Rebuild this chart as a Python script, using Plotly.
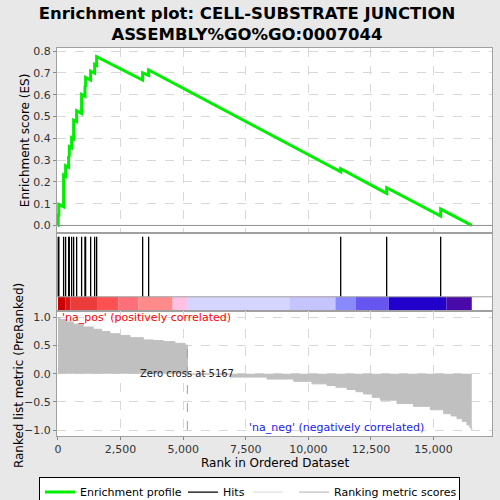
import plotly.graph_objects as go

# ranks of the genes in the set (hits) and ES just before / after each hit
hit_ranks = [10, 35, 225, 305, 425, 452, 545, 625, 745, 944, 1078, 1104, 1304,
             1464, 1544, 3381, 3621, 11290, 13126, 15283]
es_before = [0.0, 0.047, 0.085, 0.226, 0.267, 0.315, 0.355, 0.397, 0.476, 0.514,
             0.593, 0.636, 0.667, 0.699, 0.734, 0.667, 0.688, 0.246, 0.147, 0.043]
es_after = [0.047, 0.096, 0.231, 0.274, 0.317, 0.361, 0.402, 0.483, 0.526, 0.601,
            0.638, 0.679, 0.708, 0.739, 0.774, 0.700, 0.713, 0.260, 0.173, 0.075]
n_genes = 16525
zero_cross = 5167

# ranked list metric
metric_rank = [0, 80, 346, 612, 1012, 1411, 1744, 2077, 2476, 2876, 3408, 3808,
               4207, 4673, 5073, 5167, 6882, 8347, 9411, 10144, 10743, 11100,
               11541, 11900, 12206, 12550, 12872, 13537, 14202, 14868, 15400,
               15700, 15934, 16150, 16333, 16450, 16525]
metric_val = [1.0, 0.96, 0.92, 0.88, 0.83, 0.79, 0.75, 0.71, 0.68, 0.64, 0.60, 0.59,
              0.57, 0.54, 0.51, -0.01, -0.06, -0.095, -0.135, -0.18, -0.21, -0.24,
              -0.28, -0.32, -0.36, -0.42, -0.47, -0.53, -0.58, -0.64, -0.71,
              -0.75, -0.80, -0.85, -0.91, -0.96, -1.0]

# colour bar segments
seg_start = [0, 290, 490, 1560, 2420, 3220, 4580, 5150, 9240, 11080, 11880, 13210, 15510]
seg_end = [290, 490, 1560, 2420, 3220, 4580, 5150, 9240, 11080, 11880, 13210, 15510, 16525]
seg_color = ['#cc0000', '#dc1414', '#ec3b3b', '#ff5151', '#ff6f7a', '#ff8a8a', '#ffc1e3',
             '#d5d5ff', '#c6c4fc', '#8a8aff', '#6655ee', '#2200cc', '#4a0aaa']

es_x = [0]
es_y = [0.0]
for r, b, a in zip(hit_ranks, es_before, es_after):
    es_x += [r, r]
    es_y += [b, a]
es_x.append(n_genes)
es_y.append(0.0)

hx, hy = [], []
for r in hit_ranks:
    hx += [r, r, None]
    hy += [0.183, 0.953, None]

fig = go.Figure()
fig.add_scatter(x=es_x, y=es_y, mode='lines', name='Enrichment profile', legendwidth=98,
                line=dict(color='#00ee00', width=3), xaxis='x', yaxis='y')
fig.add_scatter(x=hx, y=hy, mode='lines', name='Hits', legendwidth=20,
                line=dict(color='black', width=1.3), xaxis='x2', yaxis='y2')
fig.add_scatter(x=[None], y=[None], mode='lines', name=' ', legendwidth=1,
                line=dict(color='#e0e0e0', width=1.3), xaxis='x3', yaxis='y3')
fig.add_scatter(x=metric_rank, y=metric_val, mode='lines', line_shape='hv',
                fill='tozeroy', fillcolor='#c0c0c0', line=dict(color='#c0c0c0', width=1),
                showlegend=False, xaxis='x3', yaxis='y3')
fig.add_scatter(x=[None], y=[None], mode='lines', name='Ranking metric scores',
                legendwidth=120, line=dict(color='#c0c0c0', width=1.3),
                xaxis='x3', yaxis='y3')

shapes = []
for s, e, c in zip(seg_start, seg_end, seg_color):
    shapes.append(dict(type='rect', xref='x2', yref='y2', x0=s, x1=e, y0=0, y1=0.183,
                       fillcolor=c, line=dict(width=0), layer='below'))
shapes.append(dict(type='line', xref='x2', yref='y2', x0=-40, x1=17340, y0=0.183, y1=0.183,
                   line=dict(color='#a0a0a0', width=1)))
shapes.append(dict(type='line', xref='x3', yref='y3', x0=zero_cross, x1=zero_cross,
                   y0=-1.0, y1=0.55, line=dict(color='#a0a0a0', width=1, dash='dash')))
shapes.append(dict(type='line', xref='x', yref='y', x0=-40, x1=17340, y0=0, y1=0,
                   line=dict(color='#909090', width=1)))

xr = [-39, 17333]
grid = dict(showgrid=True, gridcolor='#d8d8d8', griddash='dash', gridwidth=1)
box = dict(showline=True, linecolor='#a0a0a0', linewidth=1, mirror=True, zeroline=False)
tickf = dict(family='DejaVu Sans', size=11, color='#333333')

fig.update_layout(
    width=500, height=500,
    paper_bgcolor='#e8e8e8', plot_bgcolor='white',
    margin=dict(l=57, r=8, t=48, b=64, autoexpand=False),
    font=dict(family='DejaVu Sans', color='black'),
    title=dict(text='<b>Enrichment plot: CELL-SUBSTRATE JUNCTION<br>ASSEMBLY%GO%GO:0007044</b>',
               x=0.494, xanchor='center', y=0.962, yanchor='middle',
               font=dict(size=16.5, family='DejaVu Sans', color='black')),
    xaxis=dict(domain=[0, 1], range=xr, showticklabels=False, ticks='',
               dtick=2500, anchor='y', **grid, **box),
    yaxis=dict(domain=[0.523, 1], range=[-0.035, 0.814], dtick=0.1, tickformat='.1f',
               ticks='outside', ticklen=3, tickcolor='#888', tickfont=tickf, **grid, **box),
    xaxis2=dict(domain=[0, 1], range=xr, showticklabels=False, ticks='', showgrid=False,
                anchor='y2', **box),
    yaxis2=dict(domain=[0.322, 0.523], range=[0, 1], showticklabels=False, ticks='',
                showgrid=False, **box),
    xaxis3=dict(domain=[0, 1], range=xr, dtick=2500, tickformat=',', ticks='outside',
                ticklen=3, tickcolor='#888', tickfont=tickf, anchor='y3', **grid, **box),
    yaxis3=dict(domain=[0, 0.322], range=[-1.106, 1.112], tickvals=[-1, -0.5, 0, 0.5, 1],
                tickformat='.1f', ticks='outside', ticklen=3, tickcolor='#888',
                tickfont=tickf, **grid, **box),
    shapes=shapes,
    showlegend=True,
    legend=dict(orientation='h', x=0.4425, xanchor='center', y=-0.1045, yanchor='top',
                bgcolor='white', bordercolor='black', borderwidth=1,
                font=dict(size=11, family='DejaVu Sans'), itemwidth=30,
                tracegroupgap=0),
    annotations=[
        dict(text='Enrichment score (ES)', xref='paper', yref='paper', x=-0.0735, y=0.76,
             xanchor='center', yanchor='middle', textangle=-90, showarrow=False,
             font=dict(size=12)),
        dict(text='Ranked list metric (PreRanked)', xref='paper', yref='paper', x=-0.0874,
             y=0.157, xanchor='center', yanchor='middle', textangle=-90, showarrow=False,
             font=dict(size=12)),
        dict(text='Rank in Ordered Dataset', xref='paper', yref='paper', x=0.501, y=-0.070,
             xanchor='center', yanchor='middle', showarrow=False, font=dict(size=12)),
        dict(text="'na_pos' (positively correlated)", xref='x3', yref='y3', x=93, y=1.0,
             xanchor='left', showarrow=False, font=dict(size=11, color='red')),
        dict(text='Zero cross at 5167', xref='x3', yref='y3', x=zero_cross, y=0.0,
             showarrow=False, font=dict(size=10, color='#222')),
        dict(text="'na_neg' (negatively correlated)", xref='x3', yref='y3', x=14700, y=-0.95,
             xanchor='right', showarrow=False, font=dict(size=11, color='#2222ee')),
    ],
)

fig.write_html("out.html", config={'displayModeBar': False},
               post_script="document.body.style.margin='0px';"
                           "document.body.style.background='#e8e8e8';")
